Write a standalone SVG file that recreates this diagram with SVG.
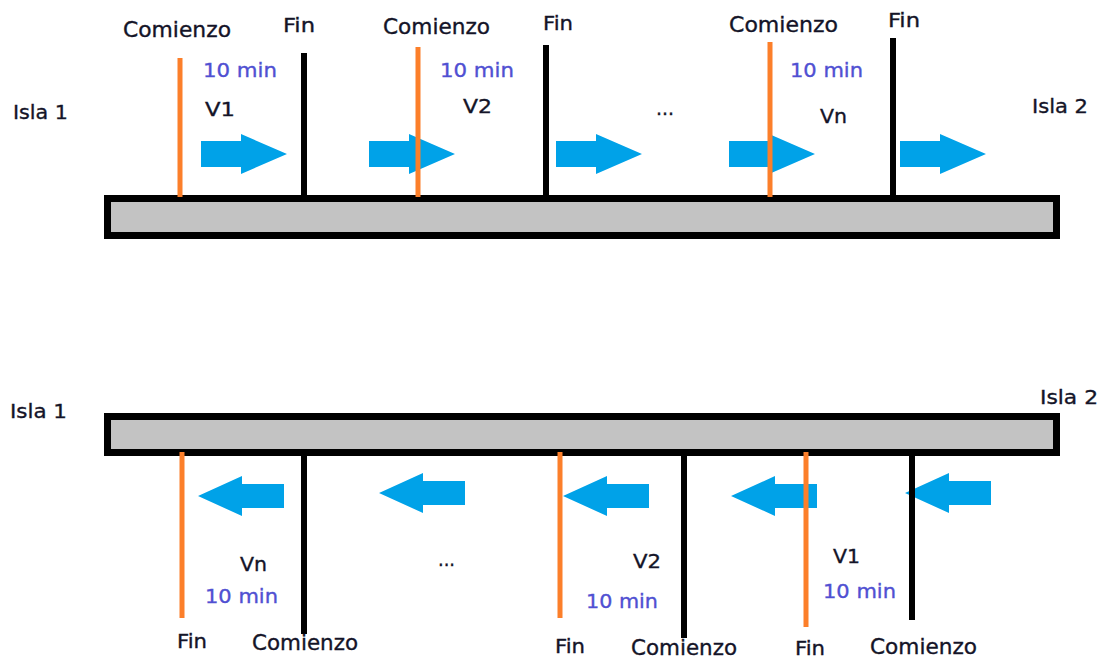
<svg xmlns="http://www.w3.org/2000/svg" xmlns:xlink="http://www.w3.org/1999/xlink" width="1106" height="659" viewBox="0 0 1106 659">
<style>
.bar{fill:#c3c3c3;stroke:#000;stroke-width:7}
.or{stroke:#fc7f2a;stroke-width:5;fill:none}
.bk{stroke:#000;stroke-width:6;fill:none}
.ar{fill:#00a2e8}
text{font-family:"DejaVu Sans","Liberation Sans",sans-serif;font-size:20px;fill:#141428;stroke:#141428;stroke-width:0.35px}
.t{font-size:20.5px}
.m{fill:#5050d2;stroke:#5050d2;font-size:19.5px}
</style>
<defs>
<path id="arR" d="M0,-13 H40 V-20 L86,0 L40,20 V13 H0 Z"/>
<path id="arL" d="M0,0 L44,-20 V-12 H86 V12 H44 V20 Z"/>
</defs>
<rect width="1106" height="659" fill="#fff"/>
<g id="bar-top"><rect class="bar" x="107.500" y="198.500" width="949" height="37"/></g>
<g id="bar-bottom"><rect class="bar" x="107.500" y="416.500" width="949" height="36"/></g>
<g id="arrows" class="ar">
<use xlink:href="#arR" x="201" y="154"/>
<use xlink:href="#arR" x="369" y="154"/>
<use xlink:href="#arR" x="556" y="154"/>
<use xlink:href="#arR" x="729" y="154"/>
<use xlink:href="#arR" x="900" y="154"/>
<use xlink:href="#arL" x="198" y="496"/>
<use xlink:href="#arL" x="379" y="493"/>
<use xlink:href="#arL" x="563" y="496"/>
<use xlink:href="#arL" x="731" y="496"/>
<use xlink:href="#arL" x="905" y="493"/>
</g>
<g id="markers">
<line class="or" x1="180" y1="58" x2="180" y2="197"/>
<line class="bk" x1="304" y1="53" x2="304" y2="196"/>
<line class="or" x1="418" y1="47" x2="418" y2="197"/>
<line class="bk" x1="546" y1="45" x2="546" y2="196"/>
<line class="or" x1="770" y1="42" x2="770" y2="197"/>
<line class="bk" x1="893" y1="38" x2="893" y2="196"/>
<line class="or" x1="182" y1="452" x2="182" y2="618"/>
<line class="bk" x1="304" y1="455" x2="304" y2="634"/>
<line class="or" x1="560" y1="452" x2="560" y2="618"/>
<line class="bk" x1="684" y1="455" x2="684" y2="638"/>
<line class="or" x1="806" y1="452" x2="806" y2="627"/>
<line class="bk" x1="912" y1="455" x2="912" y2="620"/>
</g>
<g id="labels-top" lengthAdjust="spacingAndGlyphs">
<text x="13" y="119" textLength="55" lengthAdjust="spacingAndGlyphs">Isla 1</text>
<text x="1032" y="113" textLength="56" lengthAdjust="spacingAndGlyphs">Isla 2</text>
<text class="t" x="123" y="37" textLength="108" lengthAdjust="spacingAndGlyphs">Comienzo</text>
<text x="283" y="32" textLength="32" lengthAdjust="spacingAndGlyphs">Fin</text>
<text class="m" x="203" y="77" textLength="74" lengthAdjust="spacingAndGlyphs">10 min</text>
<text x="205" y="116" textLength="30" lengthAdjust="spacingAndGlyphs">V1</text>
<text class="t" x="383" y="34" textLength="107" lengthAdjust="spacingAndGlyphs">Comienzo</text>
<text x="543" y="30" textLength="30" lengthAdjust="spacingAndGlyphs">Fin</text>
<text class="m" x="440" y="77" textLength="74" lengthAdjust="spacingAndGlyphs">10 min</text>
<text x="463" y="113" textLength="29" lengthAdjust="spacingAndGlyphs">V2</text>
<text x="656" y="115" textLength="18" lengthAdjust="spacingAndGlyphs">...</text>
<text class="t" x="729" y="32" textLength="109" lengthAdjust="spacingAndGlyphs">Comienzo</text>
<text x="888" y="27" textLength="32" lengthAdjust="spacingAndGlyphs">Fin</text>
<text class="m" x="790" y="77" textLength="73" lengthAdjust="spacingAndGlyphs">10 min</text>
<text x="820" y="123" textLength="27" lengthAdjust="spacingAndGlyphs">Vn</text>
</g>
<g id="labels-bottom">
<text x="10" y="418" textLength="57" lengthAdjust="spacingAndGlyphs">Isla 1</text>
<text x="1040" y="404" textLength="58" lengthAdjust="spacingAndGlyphs">Isla 2</text>
<text x="240" y="571" textLength="27" lengthAdjust="spacingAndGlyphs">Vn</text>
<text class="m" x="205" y="603" textLength="73" lengthAdjust="spacingAndGlyphs">10 min</text>
<text x="438" y="566" textLength="17" lengthAdjust="spacingAndGlyphs">...</text>
<text x="177" y="648" textLength="30" lengthAdjust="spacingAndGlyphs">Fin</text>
<text class="t" x="252" y="650" textLength="106" lengthAdjust="spacingAndGlyphs">Comienzo</text>
<text x="633" y="568" textLength="28" lengthAdjust="spacingAndGlyphs">V2</text>
<text class="m" x="586" y="608" textLength="72" lengthAdjust="spacingAndGlyphs">10 min</text>
<text x="555" y="653" textLength="30" lengthAdjust="spacingAndGlyphs">Fin</text>
<text class="t" x="631" y="655" textLength="106" lengthAdjust="spacingAndGlyphs">Comienzo</text>
<text x="833" y="563" textLength="27" lengthAdjust="spacingAndGlyphs">V1</text>
<text class="m" x="823" y="598" textLength="73" lengthAdjust="spacingAndGlyphs">10 min</text>
<text x="795" y="655" textLength="30" lengthAdjust="spacingAndGlyphs">Fin</text>
<text class="t" x="870" y="654" textLength="107" lengthAdjust="spacingAndGlyphs">Comienzo</text>
</g>
</svg>
